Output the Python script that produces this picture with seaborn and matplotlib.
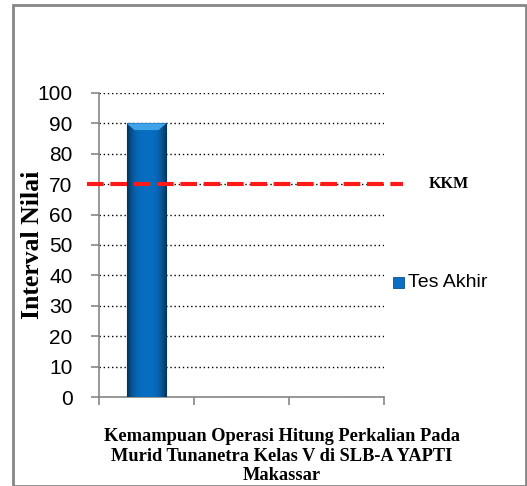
import numpy as np
import pandas as pd
import matplotlib
matplotlib.use("Agg")
import matplotlib.pyplot as plt
import seaborn as sns
from matplotlib.patches import Rectangle

# Data
categories = ["Kemampuan", "B", "C"]
scores = [90, np.nan, np.nan]
series_name = "Tes Akhir"
kkm_value = 70
y_ticks = [0, 10, 20, 30, 40, 50, 60, 70, 80, 90, 100]

df = pd.DataFrame({"kategori": categories, "nilai": scores, "seri": series_name})

sns.set_theme(style="white")
plt.rcParams["font.family"] = ["Liberation Sans", "DejaVu Sans"]

fig = plt.figure(figsize=(5.27, 4.86), dpi=100)
W, H = 527, 486
ax = fig.add_axes([99 / W, (H - 397) / H, (384 - 99) / W, (397 - 93) / H])

sns.barplot(data=df, x="kategori", y="nilai", hue="seri", palette=["#0A6FC2"],
            width=0.42, ax=ax, legend=False, zorder=3, edgecolor="#0B4F8A", linewidth=0.8)

# shaded fill across the bar width
for p in ax.patches:
    h = p.get_height()
    if not np.isfinite(h) or h == 0:
        continue
    x0, w = p.get_x(), p.get_width()
    t = np.linspace(0, 1, 64)
    shade = 1 - 0.55 * (np.abs(t - 0.5) * 2) ** 3
    base = np.array([0.03, 0.43, 0.76])
    img = (base[None, :] * shade[:, None])[None, :, :]
    im = ax.imshow(img, extent=[x0, x0 + w, 0, h], aspect="auto", zorder=3.5,
                   interpolation="bicubic")
    im.set_clip_path(p)
    # lighter bevel at the top of the bar
    ax.add_patch(plt.Polygon([[x0, h], [x0 + w, h], [x0 + w * 0.8, h - 2.2], [x0 + w * 0.2, h - 2.2]],
                             closed=True, color="#3FA3EA", zorder=4, lw=0))

ax.set_xlim(-0.5, 2.5)
ax.set_ylim(0, 100)
ax.set_yticks(y_ticks)
ax.set_yticklabels([str(v) for v in y_ticks], fontsize=15, color="#000000")
ax.set_xticks([-0.5, 0.5, 1.5, 2.5])
ax.set_xticklabels([])
ax.tick_params(axis="y", which="major", length=6, width=1.2, color="#868686",
               direction="out", left=True, pad=13)
ax.tick_params(axis="x", which="major", length=6, width=1.2, color="#868686",
               direction="out", bottom=True)

ax.grid(axis="y", linestyle=(0, (1, 2)), color="#000000", linewidth=1.0, zorder=0)
ax.set_axisbelow(True)
for side in ["top", "right"]:
    ax.spines[side].set_visible(False)
for side in ["left", "bottom"]:
    ax.spines[side].set_color("#868686")
    ax.spines[side].set_linewidth(1.2)

# KKM threshold line
ax.plot([-0.63, 2.7], [kkm_value, kkm_value], color="#FF1A1A", linestyle=(0, (4, 1.6)),
        linewidth=3, zorder=5, clip_on=False)
ax.text(3.18, kkm_value, "KKM", fontsize=11.5, fontweight="bold", family="Liberation Serif",
        ha="center", va="center", color="#000000")

ax.set_ylabel("Interval Nilai", fontsize=18.5, fontweight="bold", family="Liberation Serif",
              color="#000000")
ax.yaxis.set_label_coords(-0.232, 0.5)
ax.yaxis.label.set_va("center")
ax.set_xlabel("Kemampuan Operasi Hitung Perkalian Pada\nMurid Tunanetra Kelas V di SLB-A YAPTI\nMakassar",
              fontsize=13.2, fontweight="bold", family="Liberation Serif", linespacing=1.2,
              color="#000000")
ax.xaxis.set_label_coords(0.642, -0.102)
ax.xaxis.label.set_va("top")

# legend
fig.patches.append(Rectangle((393 / W, (H - 288) / H), 11 / W, 11 / H, transform=fig.transFigure,
                             facecolor="#0A6FC2", edgecolor="#0B4F8A", lw=0.6))
fig.text(408 / W, (H - 282) / H, series_name, fontsize=14, va="center", ha="left",
         family="Liberation Sans", color="#000000")

# chart frame
fig.patches.append(Rectangle((12.5 / W, 0), (526 - 12.5) / W, (H - 5.5) / H,
                             transform=fig.transFigure, fill=False, edgecolor="#868686", lw=2))

fig.savefig("out.png", dpi=100)
